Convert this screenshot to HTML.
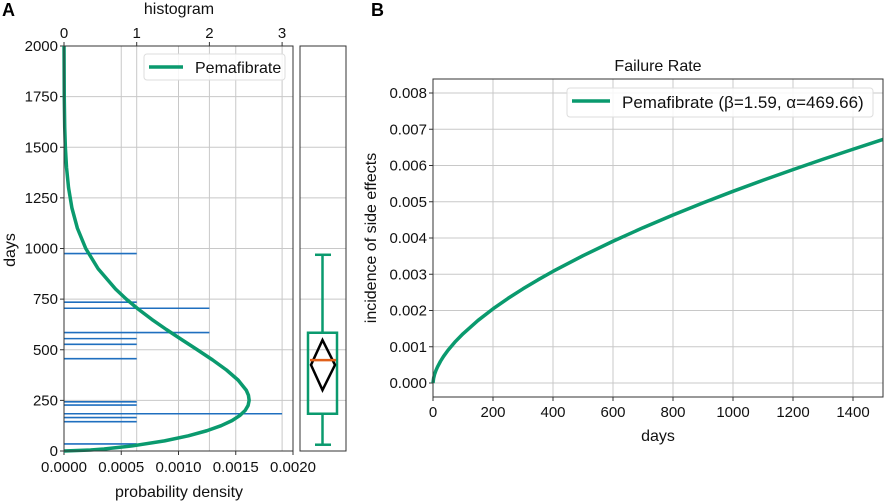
<!DOCTYPE html>
<html><head><meta charset="utf-8"><style>
body{margin:0;background:#fff;}
svg{display:block;font-family:"Liberation Sans",sans-serif;}
</style></head><body>
<svg id="fig" width="886" height="502" viewBox="0 0 886 502"></svg>
<script>
// Panel A data
const pdfDays = [0,5,10,25,50,75,100,125,150,175,200,225,250,275,300,350,400,450,500,550,600,650,700,750,800,900,1000,1100,1200,1300,1400,1500,1600,1750,2000];
const pdfValues = [0,0.000232,0.000349,0.000594,0.000878,0.001086,0.001247,0.001372,0.001467,0.001535,0.001582,0.001608,0.001617,0.001611,0.001592,0.001521,0.001419,0.001297,0.001164,0.001028,0.000894,0.000767,0.00065,0.000544,0.00045,0.000298,0.00019,0.000117,0.0000692,0.0000397,0.0000221,0.0000119,0.0000062,0.0000022,0.0000003];
const histDays = [975,735,705,585,555,527,456,243,227,184,165,145,35];
const histCounts = [1,1,2,2,1,1,1,1,1,3,1,1,1];
const daysTicks = [0,250,500,750,1000,1250,1500,1750,2000];
const pdfTicks = ["0.0000","0.0005","0.0010","0.0015","0.0020"];
const histTicks = [0,1,2,3];
const boxStats = {whiskerLow:31,q1:184,median:449,q3:584,whiskerHigh:969,meanLow:301,mean:425,meanHigh:548};
// Panel B data
const rateDays = [0,2,5,10,15,25,35,50,75,100,150,200,250,300,350,400,500,600,700,800,900,1000,1100,1200,1300,1400,1500];
const rateValues = [0,0.00013,0.000232,0.000349,0.000444,0.0006,0.000732,0.000903,0.001147,0.001358,0.001726,0.002046,0.002334,0.002599,0.002846,0.00308,0.003512,0.00391,0.004284,0.004635,0.004968,0.005288,0.005592,0.005887,0.006172,0.006448,0.00672];
const rateXTicks = [0,200,400,600,800,1000,1200,1400];
const rateYTicks = ["0.000","0.001","0.002","0.003","0.004","0.005","0.006","0.007","0.008"];

const NS="http://www.w3.org/2000/svg";
const svg=document.getElementById('fig');
function mk(tag,attrs,parent,text){const e=document.createElementNS(NS,tag);for(const k in attrs)e.setAttribute(k,attrs[k]);if(text!==undefined)e.textContent=text;(parent||svg).appendChild(e);return e;}
const GREEN="#0a9a6e",BLUE="#1f6fbf",GRID="#c8c8c8";
const TF=15, LF=16;

// ---- Panel A ----
const aL=64,aR=293,aT=46,aB=451;
const yA=d=>aB-(d/2000)*(aB-aT);
const xPdf=v=>aL+(v/0.002)*(aR-aL);
const xHist=c=>aL+c*72.7;
const gA=mk('g',{});


daysTicks.forEach(d=>{const l=mk('line',{x1:aL,x2:aR,y1:yA(d),y2:yA(d),stroke:GRID,'stroke-width':1},gA);
 mk('line',{x1:aL-4,x2:aL,y1:yA(d),y2:yA(d),stroke:'#333'},gA);
 const t=mk('text',{x:aL-6,y:yA(d)+5,'text-anchor':'end','font-size':TF,fill:'#111'},gA,String(d));});
pdfTicks.forEach(s=>{const x=xPdf(parseFloat(s));mk('line',{x1:x,x2:x,y1:aT,y2:aB,stroke:GRID},gA);
 mk('line',{x1:x,x2:x,y1:aB,y2:aB+4,stroke:'#333'},gA);
 const t=mk('text',{x:x,y:aB+21,'text-anchor':'middle','font-size':TF,fill:'#111'},gA,s);});
histTicks.forEach(c=>{const x=xHist(c);mk('line',{x1:x,x2:x,y1:aT,y2:aB,stroke:GRID},gA);
 mk('line',{x1:x,x2:x,y1:aT-4,y2:aT,stroke:'#333'},gA);
 const t=mk('text',{x:x,y:aT-8,'text-anchor':'middle','font-size':TF,fill:'#111'},gA,String(c));});
histDays.forEach((d,i)=>{const l=mk('line',{x1:aL,x2:xHist(histCounts[i]),y1:yA(d),y2:yA(d),stroke:BLUE,'stroke-width':1.6},gA);});
const pdfPath=mk('path',{d:pdfDays.map((d,i)=>(i?'L':'M')+xPdf(pdfValues[i]).toFixed(2)+','+yA(d).toFixed(2)).join(''),fill:'none',stroke:GREEN,'stroke-width':3.5,'stroke-linejoin':'round'},gA);

mk('rect',{x:aL,y:aT,width:aR-aL,height:aB-aT,fill:'none',stroke:'#333','stroke-width':1},gA);
const legA=mk('g',{},gA);
mk('rect',{x:144,y:54,width:141,height:26,rx:3,fill:'#fff','fill-opacity':0.85,stroke:'#ddd'},legA);
mk('line',{x1:149,x2:183,y1:67,y2:67,stroke:GREEN,'stroke-width':3.5},legA);
mk('text',{x:195,y:73,'font-size':LF,fill:'#111'},legA,'Pemafibrate');
let t;
t=mk('text',{x:179,y:14,'text-anchor':'middle','font-size':LF,fill:'#111'},gA,'histogram');
t=mk('text',{x:179,y:497,'text-anchor':'middle','font-size':LF,fill:'#111'},gA,'probability density');
t=mk('text',{x:0,y:0,transform:'translate(15,250) rotate(-90)','text-anchor':'middle','font-size':LF,fill:'#111'},gA,'days');
t=mk('text',{x:2,y:16,'font-size':18,'font-weight':'bold',fill:'#000'},svg,'A');

// Box plot panel
const gBox=mk('g',{});
daysTicks.forEach(d=>mk('line',{x1:300,x2:346,y1:yA(d),y2:yA(d),stroke:GRID},gBox));
const bx=322.5;
mk('line',{x1:bx,x2:bx,y1:yA(boxStats.whiskerHigh),y2:yA(boxStats.q3),stroke:GREEN,'stroke-width':2.5},gBox);
mk('line',{x1:bx,x2:bx,y1:yA(boxStats.q1),y2:yA(boxStats.whiskerLow),stroke:GREEN,'stroke-width':2.5},gBox);
mk('line',{x1:315,x2:331,y1:yA(boxStats.whiskerHigh),y2:yA(boxStats.whiskerHigh),stroke:GREEN,'stroke-width':2.5},gBox);
mk('line',{x1:315,x2:331,y1:yA(boxStats.whiskerLow),y2:yA(boxStats.whiskerLow),stroke:GREEN,'stroke-width':2.5},gBox);
mk('rect',{x:308,y:yA(boxStats.q3),width:29,height:yA(boxStats.q1)-yA(boxStats.q3),fill:'none',stroke:GREEN,'stroke-width':2.5},gBox);
mk('path',{d:`M${bx},${yA(boxStats.meanHigh)}L335,${yA(boxStats.mean)}L${bx},${yA(boxStats.meanLow)}L311,${yA(boxStats.mean)}Z`,fill:'none',stroke:'#000','stroke-width':2.5},gBox);
mk('line',{x1:310,x2:336,y1:yA(boxStats.median),y2:yA(boxStats.median),stroke:'#e0601a','stroke-width':2.5},gBox);
mk('rect',{x:300,y:aT,width:46,height:aB-aT,fill:'none',stroke:'#333'},gBox);

// ---- Panel B ----
const bL=433,bR=883,bT=79,bB=397;
const xB=d=>bL+(d/1500)*(bR-bL);
const yB=v=>383-(v/0.008)*290;
const gB=mk('g',{});
rateXTicks.forEach(d=>{mk('line',{x1:xB(d),x2:xB(d),y1:bT,y2:bB,stroke:GRID},gB);mk('line',{x1:xB(d),x2:xB(d),y1:bB,y2:bB+4,stroke:'#333'},gB);
 const t=mk('text',{x:xB(d),y:bB+20,'text-anchor':'middle','font-size':TF,fill:'#111'},gB,String(d));});
rateYTicks.forEach(s=>{const y=yB(parseFloat(s));mk('line',{x1:bL,x2:bR,y1:y,y2:y,stroke:GRID},gB);mk('line',{x1:bL-4,x2:bL,y1:y,y2:y,stroke:'#333'},gB);
 const t=mk('text',{x:bL-6,y:y+5,'text-anchor':'end','font-size':TF,fill:'#111'},gB,s);});
const rp=mk('path',{d:rateDays.map((d,i)=>(i?'L':'M')+xB(d).toFixed(2)+','+yB(rateValues[i]).toFixed(2)).join(''),fill:'none',stroke:GREEN,'stroke-width':3.5,'stroke-linejoin':'round'},gB);

mk('rect',{x:bL,y:bT,width:bR-bL,height:bB-bT,fill:'none',stroke:'#333'},gB);
const legB=mk('g',{},gB);
mk('rect',{x:567,y:88,width:306,height:29,rx:3,fill:'#fff','fill-opacity':0.85,stroke:'#ddd'},legB);
mk('line',{x1:572,x2:610,y1:101,y2:101,stroke:GREEN,'stroke-width':3.5},legB);
mk('text',{x:622,y:108,'font-size':17,fill:'#111'},legB,'Pemafibrate (β=1.59, α=469.66)');
t=mk('text',{x:658,y:71,'text-anchor':'middle','font-size':LF,fill:'#111'},gB,'Failure Rate');
t=mk('text',{x:658,y:441,'text-anchor':'middle','font-size':LF,fill:'#111'},gB,'days');
t=mk('text',{x:0,y:0,transform:'translate(376,238) rotate(-90)','text-anchor':'middle','font-size':LF,fill:'#111'},gB,'incidence of side effects');
t=mk('text',{x:371,y:16,'font-size':18,'font-weight':'bold',fill:'#000'},svg,'B');
</script>
</body></html>
